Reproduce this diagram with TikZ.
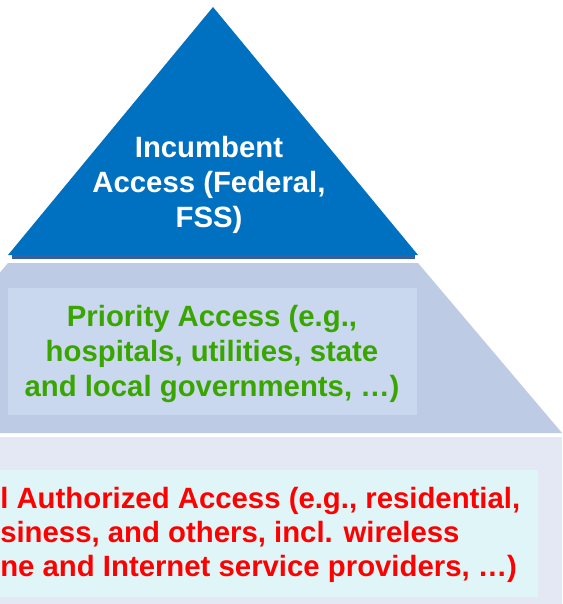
\documentclass[tikz,border=0pt]{standalone}
\usepackage{fontspec}
\setmainfont{Liberation Sans}
\usepackage{tikz}
\usetikzlibrary{calc,positioning,backgrounds}

\definecolor{incumbentblue}{RGB}{0,112,192}
\definecolor{incumbentedge}{RGB}{52,98,160}
\definecolor{prioritytier}{RGB}{189,203,229}
\definecolor{prioritybox}{RGB}{201,216,238}
\definecolor{generaltier}{RGB}{228,232,244}
\definecolor{generalbox}{RGB}{224,245,247}
\definecolor{prioritygreen}{RGB}{58,165,0}
\definecolor{generalred}{RGB}{255,0,0}

\begin{document}
\begin{tikzpicture}[x=0.75pt,y=-0.75pt,
tier text/.style={font=\bfseries\fontsize{22}{26.5}\selectfont,inner sep=0pt,align=center},
]
\useasboundingbox (0,0) rectangle (562,604);
\begin{scope}
\clip (0,0) rectangle (562,604);
\fill[generaltier] (0,437) rectangle (562,604);
\fill[generalbox] (-40,470) rectangle (538,597);
\fill[prioritytier] (8,263) -- (418,263) -- (562,433) -- (-136,433) -- cycle;
\fill[prioritybox] (8,288) rectangle (417,415);
\fill[incumbentedge] (12,255) rectangle (415,259);
\fill[incumbentblue] (213,7) -- (418,255) -- (8,255) -- cycle;
\end{scope}

\node[tier text,text=white] (incumbent) at (209,185)
  {Incumbent\\Access (Federal,\\FSS)};
\node[tier text,text=prioritygreen] (priority) at (212,354)
  {Priority Access (e.g.,\\hospitals, utilities, state\\and local governments, …)};
\node[tier text,text=generalred,align=left,anchor=west,
  font=\bfseries\fontsize{22}{25.3}\selectfont] (general) at (0,535)
  {l Authorized Access (e.g., residential,\\siness, and others, incl. wireless\\ne and Internet service providers, …)};
\end{tikzpicture}
\end{document}
